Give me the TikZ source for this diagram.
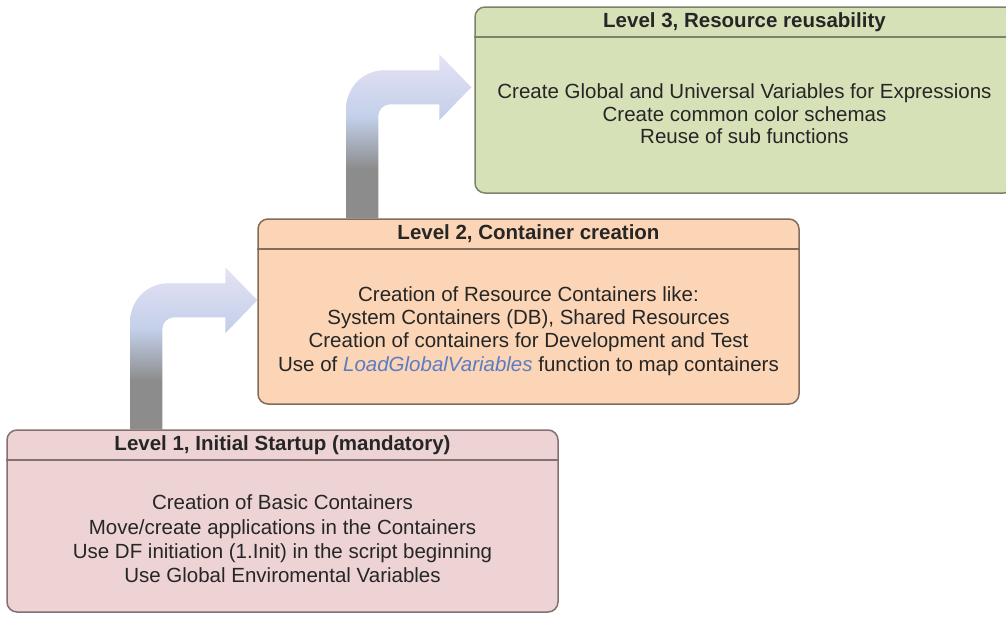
\documentclass[tikz,border=0pt]{standalone}
\usepackage{fontspec}
\setmainfont{Liberation Sans}
\usetikzlibrary{calc,fit,backgrounds}
\definecolor{txt}{HTML}{262626}
\definecolor{fillA}{HTML}{EDD3D3}
\definecolor{lineA}{HTML}{857070}
\definecolor{fillB}{HTML}{FBD5B5}
\definecolor{lineB}{HTML}{836C5A}
\definecolor{fillC}{HTML}{D7E1B8}
\definecolor{lineC}{HTML}{798469}
\definecolor{lgv}{HTML}{5B7CC4}
\definecolor{agray}{HTML}{8C8C8C}
\definecolor{ablue}{HTML}{C3D0EA}
\definecolor{alav}{HTML}{E6E2F4}
\pgfdeclareverticalshading{arrowshade}{100bp}{color(0bp)=(agray); color(25bp)=(agray); color(40bp)=(agray); color(56bp)=(ablue); color(75bp)=(alav); color(100bp)=(alav)}
\newcommand\drawbentarrow[2]{%
  \shade[shading=arrowshade] (#1)
    -- ($(#1 |- #2)+(0,21)$)
    .. controls ($(#1 |- #2)+(0,0)$) and ($(#1 |- #2)+(17,-17)$) .. ($(#1 |- #2)+(38,-17)$)
    -- ($(#2)+(-32,-17)$) -- ($(#2)+(-32,-33)$) -- (#2) -- ($(#2)+(-32,33)$) -- ($(#2)+(-32,17)$)
    -- ($(#1 |- #2)+(44,17)$)
    .. controls ($(#1 |- #2)+(37.4,17)$) and ($(#1 |- #2)+(32,22.4)$) .. ($(#1 |- #2)+(32,29)$)
    -- ($(#1)+(32,0)$) -- cycle;}
\begin{document}
\begin{tikzpicture}[x=0.5pt,y=-0.5pt,
  box/.style={rounded corners=5pt, line width=0.75pt, inner sep=0pt},
  sepline/.style={line width=1pt},
  head/.style={font=\fontsize{10.25}{11}\selectfont\bfseries, text=txt, inner sep=0pt},
  body/.style={align=center, text=txt, inner sep=0pt}]
\useasboundingbox (0,0) rectangle (1006,616);

% Level 1
\node[box, draw=lineA, fill=fillA, fit={(7,430) (558,612)}] (l1) {};
\draw[sepline, lineA] ($(l1.north west)+(0,31)$) -- ($(l1.north east)+(0,31)$);
\node[head] (h1) at ($(l1.north)+(0,15.5)$) {Level 1, Initial Startup (mandatory)};
\node[body, font=\fontsize{10.25}{12.2}\selectfont] (c1) at (282.5,539) {Creation of Basic Containers\\Move/create applications in the Containers\\Use DF initiation (1.Init) in the script beginning\\Use Global Enviromental Variables};

% Level 2
\node[box, draw=lineB, fill=fillB, fit={(258,219) (799,404)}] (l2) {};
\draw[sepline, lineB] ($(l2.north west)+(0,31)$) -- ($(l2.north east)+(0,31)$);
\node[head] (h2) at ($(l2.north)+(0,15.5)$) {Level 2, Container creation};
\node[body, font=\fontsize{10.25}{11.6}\selectfont] (c2) at (528.5,331) {Creation of Resource Containers like:\\System Containers (DB), Shared Resources\\Creation of containers for Development and Test\\Use of \textcolor{lgv}{\textit{LoadGlobalVariables}} function to map containers};

% Level 3
\begin{scope}
\clip (0,0) rectangle (1006,616);
\node[box, draw=lineC, fill=fillC, fit={(475,7) (1014,193)}] (l3) {};
\draw[sepline, lineC] ($(l3.north west)+(0,31)$) -- ($(l3.north east)+(0,31)$);
\end{scope}
\node[head] (h3) at ($(l3.north)+(0,15.5)$) {Level 3, Resource reusability};
\node[body, font=\fontsize{10.25}{11.3}\selectfont] (c3) at (744.5,114) {Create Global and Universal Variables for Expressions\\Create common color schemas\\Reuse of sub functions};

% connectors
\coordinate (b1s) at ($(l1.north west)+(124,0)$);
\coordinate (t1s) at ($(l2.north west)+(0,82)$);
\coordinate (b2s) at ($(l2.north west)+(89,0)$);
\coordinate (t2s) at ($(l3.north west)+(-3,81)$);
\begin{pgfonlayer}{background}
\fill[white] (0,0) rectangle (1006,616);
\drawbentarrow{b1s}{t1s}
\drawbentarrow{b2s}{t2s}
\end{pgfonlayer}
\end{tikzpicture}
\end{document}
